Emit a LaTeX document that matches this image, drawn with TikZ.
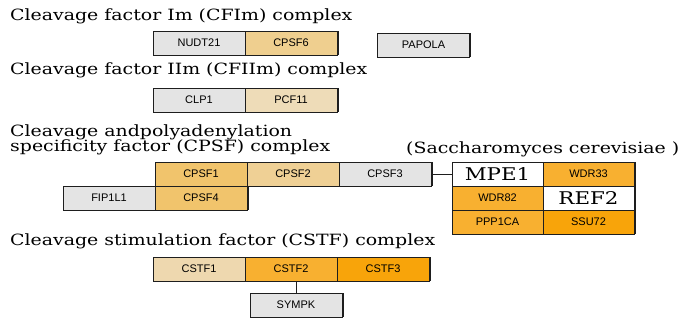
\documentclass[tikz,border=0pt]{standalone}
\usepackage{fontspec}
\setmainfont{DejaVu Serif}
\newfontfamily\titlefont[FakeStretch=1.22]{DejaVu Serif}
\newfontfamily\boxfont{Liberation Sans}
\usepackage{tikz}
\usetikzlibrary{positioning, shadows}
\definecolor{mygray}{RGB}{228,228,228}
\definecolor{mysand}{RGB}{239,207,143}
\definecolor{mytan}{RGB}{238,220,184}
\definecolor{mygold}{RGB}{241,196,108}
\definecolor{mywheat}{RGB}{239,208,149}
\definecolor{mycream}{RGB}{238,216,175}
\definecolor{myorange}{RGB}{248,176,48}
\definecolor{mydeep}{RGB}{248,164,10}
\definecolor{myedge}{RGB}{30,30,30}
\tikzset{
  protein/.style={rectangle, draw=myedge, line width=0.8pt,
    minimum width=92pt, minimum height=24pt, inner sep=0pt, outer sep=0pt,
    font=\boxfont\fontsize{11}{12}\selectfont,
    drop shadow={shadow xshift=1.8pt, shadow yshift=0pt, fill=myedge, opacity=1}},
  yeastbox/.style={protein, minimum width=91pt, font=\titlefont\fontsize{17.5}{18}\selectfont},
  heading/.style={anchor=base west, inner sep=0pt, font=\titlefont\fontsize{15.5}{15}\selectfont},
  link/.style={line width=0.9pt, color=myedge}
}

\begin{document}
\begin{tikzpicture}[x=1pt, y=-1pt]
  \useasboundingbox (0,0) rectangle (684,327);
  % CFIm
  \node[heading] (cfim) at (10,20.5) {Cleavage factor Im (CFIm) complex};
  \node[protein, fill=mygray] (nudt) at (199,43) {NUDT21};
  \node[protein, fill=mysand, right=0pt of nudt] (cpsfsix) {CPSF6};
  \node[protein, fill=mygray] (papola) at (423.5,45) {PAPOLA};
  % CFIIm
  \node[heading] (cfiim) at (10,74.5) {Cleavage factor IIm (CFIIm) complex};
  \node[protein, fill=mygray] (clp) at (199,100) {CLP1};
  \node[protein, fill=mytan, right=0pt of clp] (pcf) {PCF11};
  % CPSF
  \node[heading] (cpsfa) at (10,136.5) {Cleavage andpolyadenylation};
  \node[heading] (cpsfb) at (10,151) {specificity factor (CPSF) complex};
  \node[protein, fill=mygold] (cpsfone) at (201,174) {CPSF1};
  \node[protein, fill=mywheat, right=0pt of cpsfone] (cpsftwo) {CPSF2};
  \node[protein, fill=mygray, right=0pt of cpsftwo] (cpsfthree) {CPSF3};
  \node[protein, fill=mygray] (fip) at (109,198) {FIP1L1};
  \node[protein, fill=mygold, right=0pt of fip] (cpsffour) {CPSF4};
  % yeast
  \node[heading] (yeast) at (406,153) {(Saccharomyces cerevisiae )};
  \node[yeastbox, fill=white] (mpe) at (497.5,174) {MPE1};
  \node[protein, minimum width=91pt, fill=myorange, right=0pt of mpe] (wdrthree) {WDR33};
  \node[protein, minimum width=91pt, fill=myorange, below=0pt of mpe] (wdreight) {WDR82};
  \node[yeastbox, fill=white, right=0pt of wdreight] (ref) {REF2};
  \node[protein, minimum width=91pt, fill=myorange, below=0pt of wdreight] (ppp) {PPP1CA};
  \node[protein, minimum width=91pt, fill=mydeep, right=0pt of ppp] (ssu) {SSU72};
  \draw[link] (cpsfthree) -- (mpe);
  % CSTF
  \node[heading] (cstf) at (10,245) {Cleavage stimulation factor (CSTF) complex};
  \node[protein, fill=mycream] (cstfone) at (199,269) {CSTF1};
  \node[protein, fill=myorange, right=0pt of cstfone] (cstftwo) {CSTF2};
  \node[protein, fill=mydeep, right=0pt of cstftwo] (cstfthree) {CSTF3};
  \node[protein, fill=mygray] (sympk) at (296,305) {SYMPK};
  \draw[link] (sympk.north) -- (sympk.north |- cstftwo.south);
\end{tikzpicture}
\end{document}
